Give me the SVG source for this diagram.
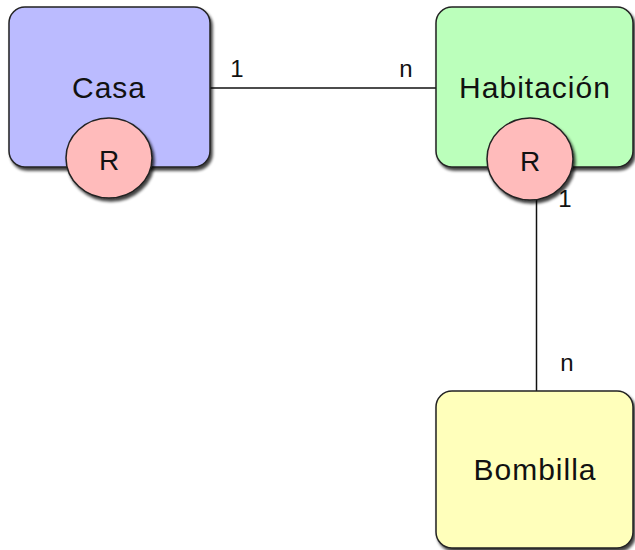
<svg xmlns="http://www.w3.org/2000/svg" width="635" height="550" viewBox="0 0 635 550">
<defs>
<filter id="sh" x="-10%" y="-10%" width="130%" height="130%">
<feGaussianBlur in="SourceAlpha" stdDeviation="1.5"/>
<feOffset dx="2" dy="3" result="b"/>
<feComponentTransfer><feFuncA type="linear" slope="0.75"/></feComponentTransfer>
<feMerge><feMergeNode/><feMergeNode in="SourceGraphic"/></feMerge>
</filter>
<style>
.box{stroke:#222;stroke-width:1.5;filter:url(#sh)}
.t{font-family:"Liberation Sans",Arial,sans-serif;fill:#111;text-anchor:middle}
.title{font-size:30px;letter-spacing:1px}
.r{font-size:28px}
.lbl{font-size:24px}
.edge{stroke:#111;stroke-width:1.5;fill:none}
</style>
</defs>
<rect width="635" height="550" fill="#fff"/>
<g id="connectors">
<line class="edge" x1="210" y1="88" x2="436" y2="88"/>
<line class="edge" x1="536.5" y1="195" x2="536.5" y2="391"/>
<text class="t lbl" x="237" y="77">1</text>
<text class="t lbl" x="406" y="77">n</text>
<text class="t lbl" x="565" y="207">1</text>
<text class="t lbl" x="567" y="371">n</text>
</g>
<g id="casa">
<rect class="box" x="9" y="7" width="201" height="160" rx="16" fill="#bbbbff"/>
<text class="t title" x="109" y="98">Casa</text>
<ellipse class="box" cx="109" cy="158" rx="43" ry="40" fill="#ffbbbb"/>
<text class="t r" x="109" y="170">R</text>
</g>
<g id="habitacion">
<rect class="box" x="436" y="7" width="197" height="160" rx="16" fill="#bbffbb"/>
<text class="t title" x="535" y="98">Habitación</text>
<ellipse class="box" cx="530" cy="159" rx="43" ry="41" fill="#ffbbbb"/>
<text class="t r" x="530" y="171">R</text>
</g>
<g id="bombilla">
<rect class="box" x="436" y="391" width="197" height="157" rx="16" fill="#ffffbb"/>
<text class="t title" x="535" y="480">Bombilla</text>
</g>
</svg>
